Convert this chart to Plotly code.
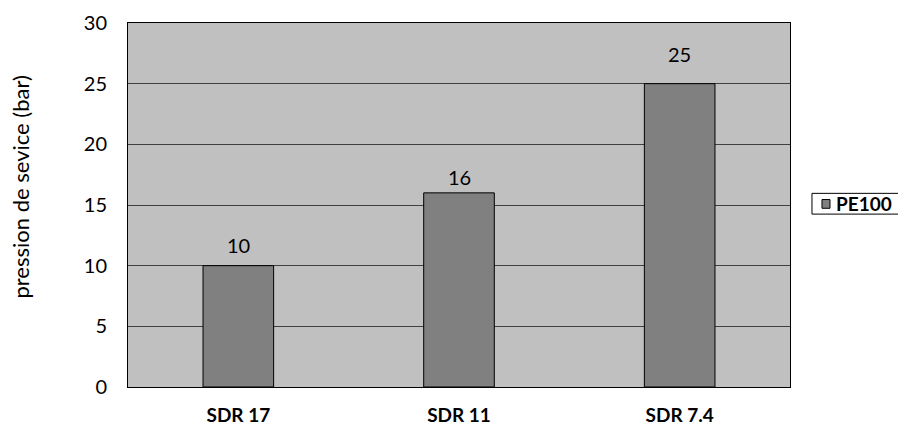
import plotly.graph_objects as go

# Service pressure by SDR class for PE100 pipe
categories = ["SDR 17", "SDR 11", "SDR 7.4"]
pressure_bar = [10, 16, 25]
series_name = "PE100"
y_ticks = [0, 5, 10, 15, 20, 25, 30]

FONT = "Lato"
BAR_FILL = "#808080"
LABEL_SHIFTS = [7, 2, 16]  # pixel lift of each value label above its bar

fig = go.Figure()
fig.add_trace(go.Bar(
    x=categories,
    y=pressure_bar,
    name=series_name,
    marker=dict(color=BAR_FILL, line=dict(color="#000000", width=1)),
    showlegend=False,
))

# value labels above each bar
for cat, val, lift in zip(categories, pressure_bar, LABEL_SHIFTS):
    fig.add_annotation(
        x=cat, y=val, text=str(val), showarrow=False,
        yanchor="bottom", yshift=lift,
        font=dict(family=FONT, size=20, color="#000000"),
    )

# rotated axis title
fig.add_annotation(
    xref="paper", yref="paper", x=-0.162, y=0.55,
    text="pression de sevice (bar)", textangle=-90, showarrow=False,
    xanchor="center", yanchor="middle",
    font=dict(family=FONT, size=22, color="#000000"),
)

# series key to the right of the plot
fig.add_shape(
    type="rect", xref="paper", yref="paper",
    x0=1.0332, x1=1.20, y0=0.475, y1=0.532,
    line=dict(color="#000000", width=1), fillcolor="#FFFFFF",
)
fig.add_shape(
    type="rect", xref="paper", yref="paper",
    x0=1.0483, x1=1.0604, y0=0.491, y1=0.515,
    line=dict(color="#000000", width=1), fillcolor=BAR_FILL,
)
fig.add_annotation(
    xref="paper", yref="paper", x=1.0665, y=0.503,
    text="<b>" + series_name + "</b>", showarrow=False,
    xanchor="left", yanchor="middle",
    font=dict(family=FONT, size=19, color="#000000"),
)

fig.update_layout(
    width=898, height=425,
    margin=dict(l=128, r=108, t=23, b=38, autoexpand=False),
    paper_bgcolor="#FFFFFF",
    plot_bgcolor="#C0C0C0",
    bargap=0.68,
    showlegend=False,
    font=dict(family=FONT, size=20, color="#000000"),
)

fig.update_xaxes(
    showline=True, linecolor="#000000", linewidth=1, mirror=True,
    showgrid=False, ticks="", ticklabelstandoff=11, automargin=False,
    tickfont=dict(family=FONT, size=19, weight="bold"),
)
fig.update_yaxes(
    range=[0, 30], tickvals=y_ticks,
    showline=True, linecolor="#000000", linewidth=1, mirror=True,
    showgrid=True, gridcolor="#404040", gridwidth=1,
    zeroline=False, ticks="", ticklabelstandoff=16, automargin=False,
    tickfont=dict(family=FONT, size=20),
)

fig.write_html("out.html")
